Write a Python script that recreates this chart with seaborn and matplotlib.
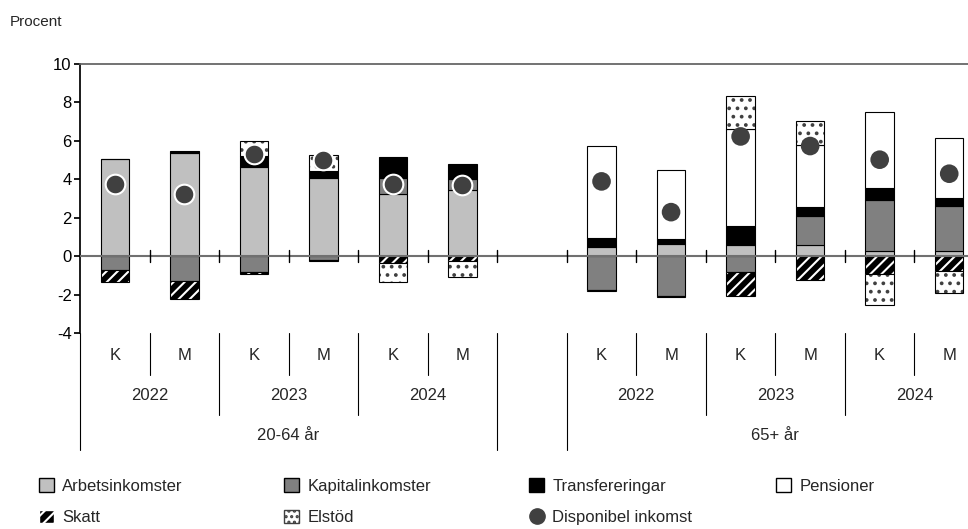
import numpy as np
import pandas as pd
import matplotlib
matplotlib.use("Agg")
import matplotlib.pyplot as plt
import matplotlib.transforms as mtrans
from matplotlib.patches import Patch
from matplotlib.lines import Line2D
import seaborn as sns

# slots: 6 bars for 20-64, gap, 6 bars for 65+
sex = ['K', 'M', 'K', 'M', 'K', 'M', '', 'K', 'M', 'K', 'M', 'K', 'M']
years = ['2022', '2023', '2024']
groups = ['20-64 år', '65+ år']

arbets = [5.03, 5.36, 4.62, 4.06, 3.21, 3.42, 0, 0.45, 0.64, 0.59, 0.59, 0.28, 0.28]
kapital = [-0.71, -1.27, -0.80, -0.20, 0.85, 0.58, 0, -1.76, -2.09, -0.80, 1.49, 2.62, 2.32]
transfer = [0.05, 0.09, 0.60, 0.38, 1.10, 0.77, 0, 0.50, 0.23, 0.99, 0.49, 0.66, 0.42]
pension = [0, 0, 0, 0, 0, 0, 0, 4.76, 3.63, 5.05, 3.23, 3.92, 3.14]
skatt = [-0.64, -0.95, -0.15, -0.06, -0.35, -0.26, 0, -0.03, -0.05, -1.25, -1.23, -0.92, -0.75]
elstod = [0, 0, 0.77, 0.84, -1.00, -0.80, 0, 0, 0, 1.69, 1.25, -1.61, -1.18]
disp = [3.73, 3.21, 5.30, 5.02, 3.77, 3.72, np.nan, 3.89, 2.29, 6.23, 5.73, 5.02, 4.29]

sns.set_theme(style="white")
plt.rcParams['font.family'] = ['Arial', 'Liberation Sans', 'DejaVu Sans']
plt.rcParams['axes.unicode_minus'] = False
plt.rcParams['hatch.linewidth'] = 1.5

fig = plt.figure(figsize=(9.68, 5.29), dpi=100)
ax = fig.add_axes([80 / 968, 1 - 333 / 529, 1 - 80 / 968, (333 - 64) / 529])

x = np.arange(len(sex))
w = 0.41
series = [
    ('Arbetsinkomster', arbets, '#c0c0c0', None, 'black'),
    ('Kapitalinkomster', kapital, '#808080', None, 'black'),
    ('Transfereringar', transfer, 'black', None, 'black'),
    ('Pensioner', pension, 'white', None, 'black'),
    ('Skatt', skatt, 'black', '///', 'white'),
    ('Elstöd', elstod, 'white', '..', '#404040'),
]
pos = np.zeros(len(x))
neg = np.zeros(len(x))
for name, vals, fc, hatch, hc in series:
    v = np.array(vals, dtype=float)
    bottom = np.where(v >= 0, pos, neg)
    m = v != 0
    if hatch:
        ax.bar(x[m], v[m], w, bottom=bottom[m], color=fc, hatch=hatch,
               edgecolor=hc, linewidth=0, zorder=2)
        ax.bar(x[m], v[m], w, bottom=bottom[m], fill=False,
               edgecolor='black', linewidth=0.8, zorder=2)
    else:
        ax.bar(x[m], v[m], w, bottom=bottom[m], color=fc,
               edgecolor='black', linewidth=0.8, zorder=2)
    pos = np.where(v >= 0, pos + v, pos)
    neg = np.where(v < 0, neg + v, neg)

df = pd.DataFrame({'x': x, 'disp': disp})
sns.scatterplot(data=df[df.x < 6], x='x', y='disp', s=200, color='#404040',
                edgecolor='white', linewidth=1.5, ax=ax, zorder=4)
sns.scatterplot(data=df[df.x > 6], x='x', y='disp', s=180, color='#404040',
                edgecolor='none', ax=ax, zorder=4)

ax.set_xlim(-0.5, 12.27)
ax.set_ylim(-4, 10)
ax.set_yticks(range(-4, 11, 2))
ax.tick_params(axis='y', length=4, direction='out', left=True, labelsize=12, colors='black', pad=2)
ax.set_xticks([])
ax.set_xlabel('')
ax.set_ylabel('')
for s in ['right', 'bottom']:
    ax.spines[s].set_visible(False)
ax.spines['top'].set_color('#606060')
ax.spines['left'].set_color('black')
ax.axhline(0, color='#707070', lw=1.5, zorder=3)
for b in np.arange(0.5, 12, 1):
    ax.plot([b, b], [-0.3, 0.3], color='black', lw=1, zorder=3)

tr = mtrans.blended_transform_factory(ax.transData, fig.transFigure)
fy = lambda py: 1 - py / 529
def vline(xv, y0, y1):
    ax.plot([xv, xv], [fy(y0), fy(y1)], color='black', lw=0.8, transform=tr, clip_on=False)

vline(-0.5, 333, 450)
for i, s in enumerate(sex):
    if s:
        ax.text(i, fy(355), s, transform=tr, ha='center', va='center', fontsize=12)
for b in np.arange(0.5, 12, 1):
    vline(b, 333, 375)
for b in [1.5, 3.5, 5.5, 6.5, 8.5, 10.5]:
    vline(b, 375, 415)
for b in [5.5, 6.5]:
    vline(b, 415, 450)
for gi, start in enumerate([0, 7]):
    for yi, yr in enumerate(years):
        ax.text(start + 2 * yi + 0.5, fy(395), yr, transform=tr, ha='center', va='center', fontsize=12)
    ax.text(start + 2.5, fy(436), groups[gi], transform=tr, ha='center', va='center', fontsize=12)

fig.text(10 / 968, fy(22), 'Procent', ha='left', va='center', fontsize=11)

h = {
    'Arbetsinkomster': Patch(facecolor='#c0c0c0', edgecolor='black'),
    'Kapitalinkomster': Patch(facecolor='#808080', edgecolor='black'),
    'Transfereringar': Patch(facecolor='black', edgecolor='black'),
    'Pensioner': Patch(facecolor='white', edgecolor='black'),
    'Skatt': Patch(facecolor='black', edgecolor='white', hatch='///'),
    'Elstöd': Patch(facecolor='white', edgecolor='#404040', hatch='...'),
    'Disponibel inkomst': Line2D([], [], marker='o', ls='none', color='#404040', markersize=11),
}
cols = [(39, ['Arbetsinkomster', 'Skatt']), (284, ['Kapitalinkomster', 'Elstöd']),
        (529, ['Transfereringar', 'Disponibel inkomst']), (776, ['Pensioner'])]
for px, labels in cols:
    fig.legend([h[l] for l in labels], labels, loc='upper left',
               bbox_to_anchor=(px / 968, fy(478)), frameon=False, fontsize=12,
               handlelength=0.9, handleheight=0.9, handletextpad=0.5,
               labelspacing=0.95, borderaxespad=0, borderpad=0)

fig.savefig('out.png', dpi=100)
